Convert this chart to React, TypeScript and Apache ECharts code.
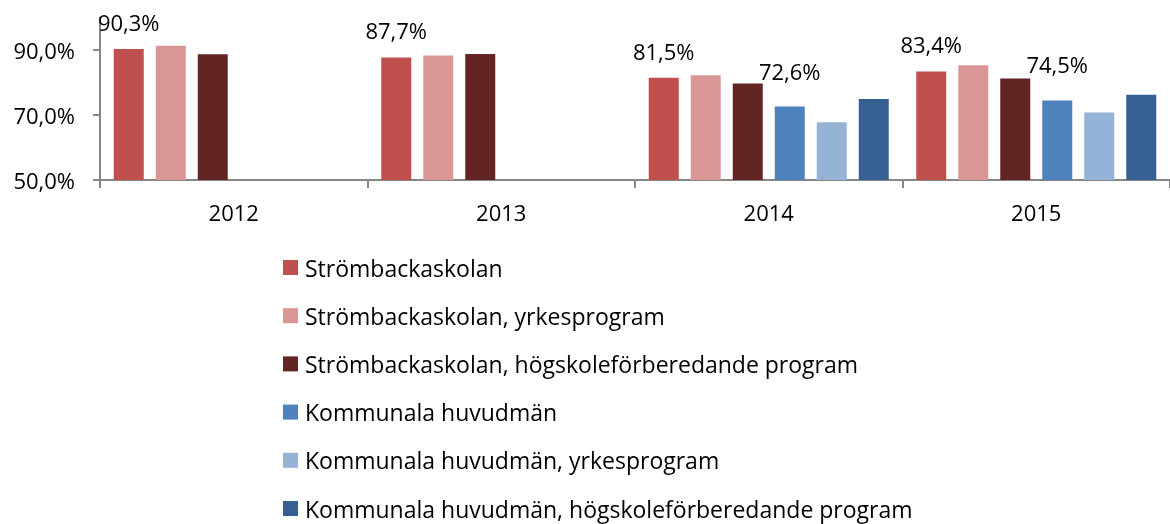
import React, { useEffect, useRef } from "react";
import * as echarts from "echarts";

const categories = ["2012", "2013", "2014", "2015"];
const seriesNames = [
  "Strömbackaskolan",
  "Strömbackaskolan, yrkesprogram",
  "Strömbackaskolan, högskoleförberedande program",
  "Kommunala huvudmän",
  "Kommunala huvudmän, yrkesprogram",
  "Kommunala huvudmän, högskoleförberedande program",
];
const strombacka = [90.3, 87.7, 81.5, 83.4];
const strombackaYrke = [91.3, 88.3, 82.2, 85.3];
const strombackaHogskola = [88.7, 88.8, 79.7, 81.2];
const kommunala = [null, null, 72.6, 74.5];
const kommunalaYrke = [null, null, 67.8, 70.8];
const kommunalaHogskola = [null, null, 74.9, 76.2];
const yTicks = [50, 70, 90];
const colors = ["#C0504D", "#D99694", "#632523", "#4F81BD", "#95B3D7", "#376092"];
const labelledSeries = [0, 3];

const FONT = "'Open Sans', sans-serif";

const fmt = (v: number) => v.toFixed(1).replace(".", ",") + "%";

export default function App() {
  const ref = useRef<HTMLDivElement>(null);
  useEffect(() => {
    if (!ref.current) return;
    const chart = echarts.init(ref.current, null, { renderer: "svg" });
    const allData = [strombacka, strombackaYrke, strombackaHogskola, kommunala, kommunalaYrke, kommunalaHogskola];
    chart.setOption({
      animation: false,
      textStyle: { fontFamily: FONT },
      grid: { left: 100, right: -7, top: 17.5, bottom: 344, containLabel: false },
      legend: {
        orient: "vertical",
        left: 283,
        top: 256,
        height: 320,
        padding: 0,
        itemWidth: 15,
        itemHeight: 15,
        itemGap: 25.2,
        icon: "rect",
        data: seriesNames,
        textStyle: { fontFamily: FONT, fontSize: 23, color: "#000", lineHeight: 22, padding: [0, 0, 0, 2] },
        selectedMode: false,
      },
      xAxis: {
        type: "category",
        data: categories,
        axisLine: { lineStyle: { color: "#868686", width: 2 } },
        axisTick: { show: true, length: 8, lineStyle: { color: "#868686", width: 2 } },
        axisLabel: { fontFamily: FONT, fontSize: 22, color: "#000", margin: 21 },
      },
      yAxis: {
        type: "value",
        min: 50,
        max: 100,
        interval: 20,
        splitLine: { show: false },
        axisLine: { show: true, lineStyle: { color: "#868686", width: 2 } },
        axisTick: { show: true, length: 7, lineStyle: { color: "#868686", width: 2 }, customValues: yTicks },
        axisLabel: {
          fontFamily: FONT,
          fontSize: 22,
          color: "#000",
          margin: 25,
          customValues: yTicks,
          formatter: (v: number) => fmt(v),
        },
      },
      series: seriesNames.map((name, i) => ({
        name,
        type: "bar",
        data: allData[i],
        barWidth: 30,
        barGap: "40%",
        itemStyle: { color: colors[i] },
        label: labelledSeries.includes(i)
          ? {
              show: true,
              position: "top",
              distance: i === 0 ? 16 : 25,
              fontFamily: FONT,
              fontSize: 22,
              color: "#000",
              formatter: (p: any) => fmt(p.value),
            }
          : { show: false },
      })),
    });
    return () => chart.dispose();
  }, []);
  return <div ref={ref} style={{ position: "fixed", left: 0, top: 0, width: 1170, height: 524 }} />;
}
